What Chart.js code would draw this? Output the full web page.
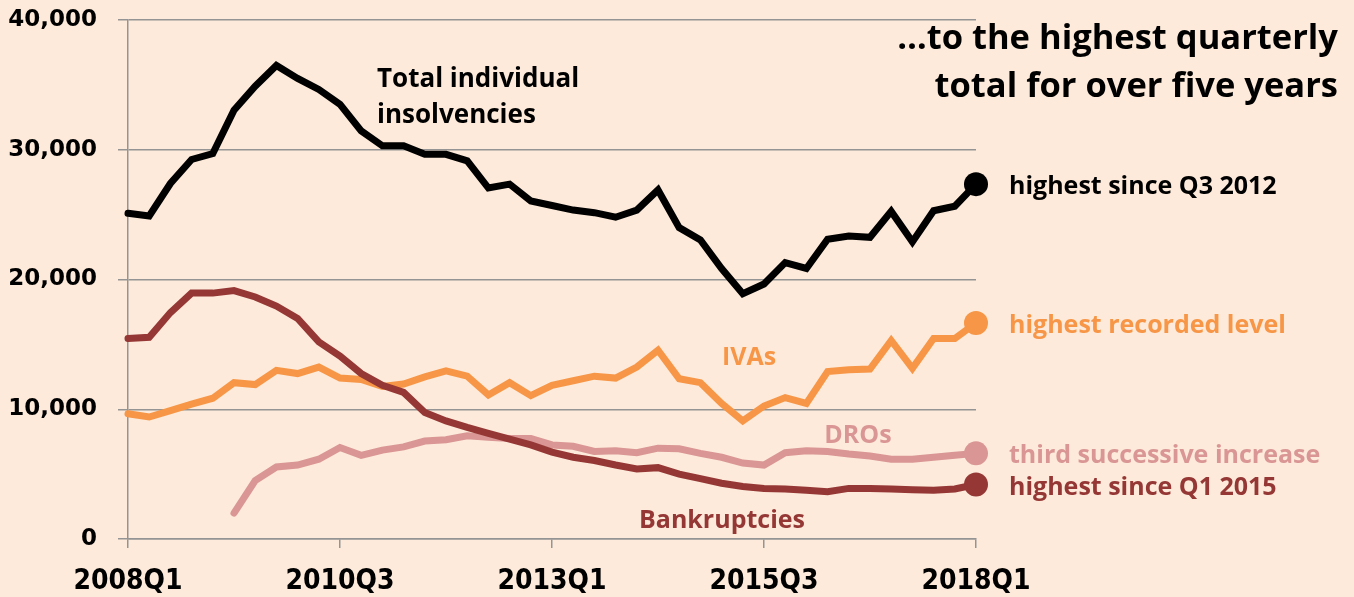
<!DOCTYPE html>
<html>
<head>
<meta charset="utf-8">
<script src="https://cdn.jsdelivr.net/npm/chart.js@4"></script>
<style>
    body { margin: 0; background: #FDEADA; }
    #wrap { position: relative; width: 1354px; height: 597px; background: #FDEADA; overflow: hidden; }
    .note { position: absolute; font-family: 'Open Sans', Lato, sans-serif; font-weight: bold; white-space: nowrap; }
    .mid { transform: translate(-50%, -50%); }
    .end { transform: translateY(-50%); font-size: 25px; }
</style>
</head>
<body>
<div id="wrap">
    <canvas id="chart" width="1354" height="597"></canvas>
    <div class="note" style="right:16px; top:12px; font-size:34.5px; line-height:48px; text-align:right; color:#000;">…to the highest quarterly<br>total for over five years</div>
    <div class="note" style="left:377px; top:59px; font-size:26px; line-height:36px; color:#000;">Total individual<br>insolvencies</div>
    <div class="note mid" style="left:749px; top:355px; font-size:25px; color:#F79646;">IVAs</div>
    <div class="note mid" style="left:858px; top:433px; font-size:25px; color:#D99694;">DROs</div>
    <div class="note mid" style="left:722px; top:518px; font-size:25px; color:#953735;">Bankruptcies</div>
    <div class="note end" id="end-total" style="color:#000;">highest since Q3 2012</div>
    <div class="note end" id="end-iva" style="color:#F79646;">highest recorded level</div>
    <div class="note end" id="end-dro" style="color:#D99694;">third successive increase</div>
    <div class="note end" id="end-bank" style="color:#953735;">highest since Q1 2015</div>
</div>
<script>
// quarterly individual insolvencies, England & Wales
const quarters = [
    '2008Q1', '2008Q2', '2008Q3', '2008Q4', '2009Q1', '2009Q2', '2009Q3', '2009Q4',
    '2010Q1', '2010Q2', '2010Q3', '2010Q4', '2011Q1', '2011Q2', '2011Q3', '2011Q4',
    '2012Q1', '2012Q2', '2012Q3', '2012Q4', '2013Q1', '2013Q2', '2013Q3', '2013Q4',
    '2014Q1', '2014Q2', '2014Q3', '2014Q4', '2015Q1', '2015Q2', '2015Q3', '2015Q4',
    '2016Q1', '2016Q2', '2016Q3', '2016Q4', '2017Q1', '2017Q2', '2017Q3', '2017Q4',
    '2018Q1'
];

const totalInsolvencies = [
    25100, 24900, 27400, 29250, 29700, 33050, 34900, 36500, 35500, 34650,
    33500, 31450, 30300, 30300, 29650, 29650, 29150, 27050, 27350, 26050,
    25700, 25350, 25150, 24800, 25350, 26900, 24000, 23050, 20850, 18900,
    19650, 21300, 20850, 23100, 23350, 23250, 25250, 22900, 25300, 25650,
    27350
];

const ivas = [
    9650, 9400, 9900, 10400, 10850, 12050, 11900, 13000, 12750, 13250,
    12400, 12300, 11750, 11950, 12500, 12950, 12550, 11100, 12050, 11050,
    11850, 12200, 12550, 12400, 13250, 14550, 12350, 12050, 10450, 9100,
    10250, 10900, 10450, 12900, 13050, 13100, 15300, 13150, 15450, 15450,
    16650
];

// DROs only start in 2009Q2
const dros = [
    null, null, null, null, null, 2000, 4500, 5550, 5700, 6150,
    7050, 6450, 6850, 7100, 7550, 7650, 7950, 7850, 7750, 7750,
    7250, 7150, 6750, 6800, 6650, 7000, 6950, 6600, 6300, 5850,
    5700, 6650, 6800, 6750, 6550, 6400, 6150, 6150, 6300, 6450,
    6600
];

const bankruptcies = [
    15450, 15550, 17450, 18950, 18950, 19150, 18650, 17950, 17000, 15200,
    14100, 12750, 11850, 11300, 9750, 9100, 8600, 8150, 7700, 7250,
    6700, 6300, 6050, 5700, 5400, 5500, 5000, 4650, 4300, 4050,
    3900, 3850, 3750, 3650, 3900, 3900, 3850, 3800, 3750, 3850,
    4200
];

const yTicks = [0, 10000, 20000, 30000, 40000];

const GRID = '#949494';
const last = quarters.length - 1;

// line with a big dot only on the latest quarter
function series(data, color, endId) {
    return {
        data: data,
        endId: endId,
        borderColor: color,
        backgroundColor: color,
        borderWidth: 7,
        borderCapStyle: 'round',
        borderJoinStyle: 'miter',
        pointRadius: ctx => ctx.dataIndex === last ? 12 : 0,
        pointBorderWidth: 0,
        pointHoverRadius: 0,
        clip: false
    };
}

// put the end-of-line notes next to the last point
const endLabels = {
    id: 'endLabels',
    afterDraw(chart) {
        chart.data.datasets.forEach((ds, i) => {
            const el = document.getElementById(ds.endId);
            const pt = chart.getDatasetMeta(i).data[last];
            if (!el || !pt) return;
            el.style.left = (pt.x + 33) + 'px';
            el.style.top = pt.y + 'px';
        });
    }
};

new Chart(document.getElementById('chart'), {
    type: 'line',
    data: {
        labels: quarters,
        datasets: [
            series(bankruptcies, '#953735', 'end-bank'),
            series(dros, '#D99694', 'end-dro'),
            series(ivas, '#F79646', 'end-iva'),
            series(totalInsolvencies, '#000000', 'end-total')
        ]
    },
    options: {
        responsive: false,
        animation: false,
        layout: { padding: { top: 20, right: 378, left: 0, bottom: 0 } },
        plugins: {
            legend: { display: false },
            tooltip: { enabled: false }
        },
        scales: {
            x: {
                offset: false,
                grid: {
                    drawOnChartArea: false,
                    tickLength: 9,
                    lineWidth: 1.5,
                    tickColor: ctx => ctx.index % 10 === 0 ? GRID : 'rgba(0,0,0,0)'
                },
                border: { color: GRID, width: 1.5 },
                ticks: {
                    autoSkip: false,
                    maxRotation: 0,
                    padding: 17,
                    color: '#000',
                    font: { family: "'DejaVu Sans Condensed', 'Liberation Sans Narrow', sans-serif", weight: 'bold', size: 28 },
                    callback: (v, i) => i % 10 === 0 ? quarters[i] : ''
                },
                afterFit: scale => { scale.height = 58; }
            },
            y: {
                min: yTicks[0],
                max: yTicks[yTicks.length - 1],
                afterBuildTicks: scale => { scale.ticks = yTicks.map(v => ({ value: v })); },
                grid: { color: GRID, lineWidth: 1.5, tickLength: 10 },
                border: { color: GRID, width: 1.5 },
                ticks: {
                    padding: 21,
                    color: '#000',
                    font: { family: "'DejaVu Sans', sans-serif", weight: 'bold', size: 23 },
                    callback: v => v.toLocaleString('en-US')
                },
                afterFit: scale => {
                    scale.width = 128;
                    scale.paddingTop = 0;
                    scale.paddingBottom = 0;
                }
            }
        }
    },
    plugins: [endLabels]
});
</script>
</body>
</html>
